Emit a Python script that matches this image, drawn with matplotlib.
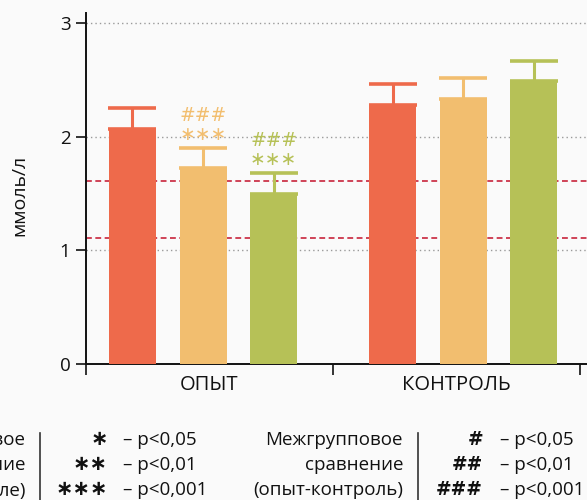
import matplotlib
matplotlib.use('Agg')
import matplotlib.pyplot as plt
import numpy as np

# ---- data ----
groups = ['ОПЫТ', 'КОНТРОЛЬ']
colors = ['#ee6a4b', '#f2be6f', '#b6c157']
means = [[2.07, 1.72, 1.495], [2.28, 2.33, 2.49]]
errs = [[0.18, 0.18, 0.185], [0.18, 0.19, 0.18]]
sig_within = [['', '∗∗∗', '∗∗∗'], ['', '', '']]
sig_between = [['', '###', '###'], ['', '', '']]
ref_lines = [1.11, 1.61]
y_ticks = [0, 1, 2, 3]

legend_left = ['Внутригрупповое', 'сравнение', '(относительно 1-го этапа в цикле)']
legend_left_sym = ['∗', '∗∗', '∗∗∗']
legend_mid = ['Межгрупповое', 'сравнение', '(опыт-контроль)']
legend_mid_sym = ['#', '##', '###']
p_levels = ['– p<0,05', '– p<0,01', '– p<0,001']

W, H = 587, 500
bg = '#fafafa'
plt.rcParams['font.family'] = ['Open Sans', 'DejaVu Sans']

fig = plt.figure(figsize=(W / 100, H / 100), dpi=100, facecolor=bg)

# axes placed in pixels: left spine x=86, zero line y=364, top y=13
left_px, zero_px, top_px, right_px = 86, 364, 13, 600
ax = fig.add_axes([left_px / W, (H - zero_px) / H, (right_px - left_px) / W, (zero_px - top_px) / H])
ax.set_facecolor(bg)

unit_px = 247.0
ax.set_xlim(0, (right_px - left_px) / unit_px)
ymax = 3 + 10 / 113.67
ax.set_ylim(0, ymax)

for y in y_ticks[1:]:
    ax.axhline(y, color='#9a9a9a', lw=1.0, ls=(0, (1, 2.2)), zorder=1)
for y in ref_lines:
    ax.axhline(y, color='#cf4257', lw=1.4, ls=(0, (3, 1.8)), zorder=1)

bar_w = 47 / unit_px
cap_pt = 23.5 * 72 / 100
for g in range(len(groups)):
    for j in range(3):
        x = g * 1.053 + 0.188 + j * 0.286
        m, e = means[g][j], errs[g][j]
        ax.bar(x, m, width=bar_w, color=colors[j], zorder=3)
        ax.errorbar(x, m, yerr=[[0], [e]], fmt='none', ecolor=colors[j],
                    elinewidth=2.2, capsize=cap_pt, capthick=2.6, zorder=2)
        if sig_within[g][j]:
            ax.text(x, m + e + 0.12, sig_within[g][j], color=colors[j], ha='center', va='center',
                    fontsize=13.5, family='DejaVu Sans', zorder=4)
        if sig_between[g][j]:
            ax.text(x, m + e + 0.29, sig_between[g][j], color=colors[j], ha='center', va='center',
                    fontsize=13.5, family='DejaVu Sans', zorder=4)

for s in ['top', 'right']:
    ax.spines[s].set_visible(False)
for s in ['left', 'bottom']:
    ax.spines[s].set_linewidth(1.4)
    ax.spines[s].set_color('#111111')

ax.set_yticks(y_ticks)
ax.tick_params(axis='y', length=7.2, width=1.2, pad=4, labelsize=13.5, colors='#111111')
ax.set_xticks([0, 1, 2])
ax.set_xticklabels([])
ax.set_xticks([0.5, 1.5], minor=True)
ax.set_xticklabels(groups, minor=True)
ax.tick_params(axis='x', which='major', length=8, width=1.2, color='#111111')
ax.tick_params(axis='x', which='minor', length=0, pad=8, labelsize=14.5, labelcolor='#111111')

fig.text(19 / W, 1 - 195 / H, 'ммоль/л', rotation=90, ha='center', va='center', fontsize=14, color='#111111')

# ---- legend ----
baselines = [445, 470, 495]
fs = 13.5
for i, yb in enumerate(baselines):
    yf = 1 - yb / H
    fig.text(25 / W, yf, legend_left[i], ha='right', va='baseline', fontsize=fs, color='#111111')
    fig.text(108 / W, yf, legend_left_sym[i], ha='right', va='baseline', fontsize=15,
             fontweight='bold', family='DejaVu Sans', color='#111111')
    fig.text(123 / W, yf, p_levels[i], ha='left', va='baseline', fontsize=fs, color='#111111')
    fig.text(403 / W, yf, legend_mid[i], ha='right', va='baseline', fontsize=fs, color='#111111')
    fig.text(483 / W, yf, legend_mid_sym[i], ha='right', va='baseline', fontsize=13.5,
             fontweight='bold', family='DejaVu Sans', color='#111111')
    fig.text(500 / W, yf, p_levels[i], ha='left', va='baseline', fontsize=fs, color='#111111')

for xs in [40, 418]:
    fig.add_artist(plt.Line2D([xs / W, xs / W], [1 - 433 / H, 0], color='#333333', lw=1.2))

fig.savefig('out.png', dpi=100, facecolor=bg)
